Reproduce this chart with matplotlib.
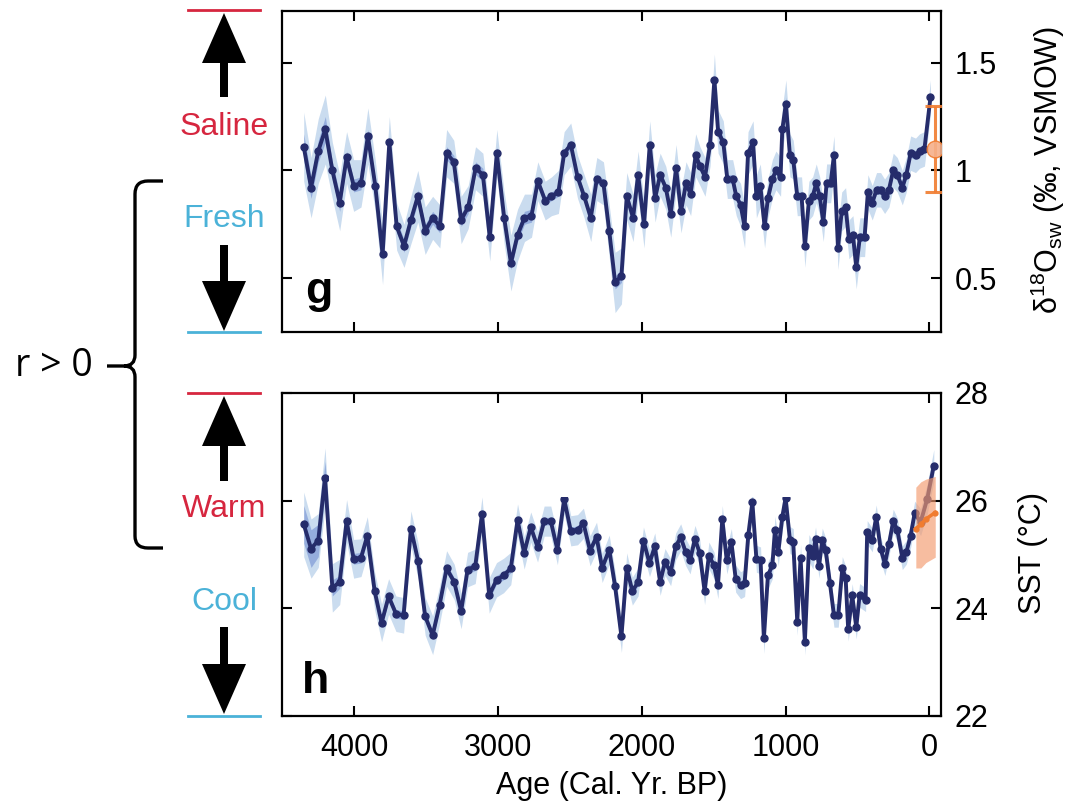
import matplotlib
matplotlib.use("agg")
import matplotlib.pyplot as plt
from matplotlib.patches import FancyArrow, PathPatch
from matplotlib.path import Path
import numpy as np

plt.rcParams['font.family'] = ['Liberation Sans', 'DejaVu Sans']
plt.rcParams['mathtext.fontset'] = 'custom'
plt.rcParams['mathtext.rm'] = 'Liberation Sans'
plt.rcParams['mathtext.it'] = 'Liberation Sans:italic'

# --- seawater d18O record (panel g) ---
age_g = [4349, 4298, 4248, 4199, 4150, 4099, 4051, 4002, 3951, 3903,
         3852, 3801, 3754, 3703, 3652, 3604, 3556, 3505, 3453, 3403,
         3356, 3306, 3255, 3206, 3155, 3104, 3056, 3007, 2956, 2909,
         2863, 2815, 2766, 2722, 2671, 2627, 2579, 2539, 2493, 2446,
         2400, 2354, 2312, 2266, 2226, 2185, 2141, 2104, 2060, 2025,
         1984, 1944, 1907, 1872, 1833, 1798, 1761, 1727, 1692, 1660,
         1625, 1595, 1560, 1525, 1495, 1469, 1433, 1405, 1368, 1343,
         1313, 1285, 1261, 1226, 1203, 1176, 1146, 1123, 1092, 1067,
         1035, 1023, 998, 970, 947, 919, 889, 866, 838, 812,
         787, 763, 738, 715, 687, 664, 636, 610, 583, 560,
         532, 509, 484, 451, 428, 398, 368, 340, 312, 282,
         252, 224, 189, 161, 131, 97, 69, 35, -7]
d18o = [1.11, 0.92, 1.09, 1.19, 1.00, 0.85, 1.06, 0.93, 0.94, 1.16,
        0.93, 0.61, 1.13, 0.74, 0.65, 0.77, 0.88, 0.72, 0.78, 0.74,
        1.08, 1.04, 0.77, 0.83, 1.01, 0.98, 0.69, 1.08, 0.78, 0.57,
        0.70, 0.78, 0.79, 0.95, 0.86, 0.88, 0.90, 1.08, 1.12, 0.97,
        0.88, 0.78, 0.96, 0.94, 0.72, 0.48, 0.51, 0.88, 0.78, 0.98,
        0.75, 1.12, 0.87, 0.98, 0.92, 0.80, 1.01, 0.81, 0.94, 0.89,
        1.07, 1.02, 0.97, 1.12, 1.42, 1.18, 1.13, 0.96, 0.96, 0.88,
        0.84, 0.74, 1.08, 1.13, 0.88, 0.93, 0.74, 0.87, 0.96, 1.00,
        0.97, 1.19, 1.31, 1.07, 1.05, 0.88, 0.88, 0.65, 0.86, 0.88,
        0.94, 0.88, 0.76, 0.94, 0.94, 1.07, 0.64, 0.81, 0.83, 0.68,
        0.70, 0.55, 0.69, 0.69, 0.90, 0.85, 0.91, 0.91, 0.88, 0.91,
        1.00, 0.98, 0.92, 0.98, 1.08, 1.07, 1.09, 1.10, 1.34]
d18o_err95 = [0.16, 0.14, 0.15, 0.16, 0.13, 0.13, 0.12, 0.12, 0.11, 0.13,
              0.12, 0.14, 0.12, 0.11, 0.10, 0.11, 0.12, 0.11, 0.10, 0.10,
              0.11, 0.10, 0.11, 0.10, 0.10, 0.10, 0.11, 0.11, 0.12, 0.13,
              0.12, 0.11, 0.10, 0.09, 0.09, 0.09, 0.10, 0.10, 0.10, 0.10,
              0.10, 0.11, 0.10, 0.10, 0.12, 0.14, 0.13, 0.11, 0.11, 0.11,
              0.11, 0.11, 0.11, 0.10, 0.10, 0.11, 0.11, 0.10, 0.10, 0.10,
              0.10, 0.09, 0.09, 0.10, 0.12, 0.10, 0.10, 0.09, 0.09, 0.09,
              0.10, 0.10, 0.10, 0.10, 0.10, 0.10, 0.10, 0.09, 0.09, 0.09,
              0.09, 0.10, 0.11, 0.10, 0.09, 0.09, 0.09, 0.10, 0.09, 0.09,
              0.09, 0.09, 0.09, 0.09, 0.09, 0.09, 0.10, 0.09, 0.09, 0.09,
              0.09, 0.10, 0.09, 0.09, 0.08, 0.08, 0.08, 0.08, 0.08, 0.08,
              0.08, 0.08, 0.08, 0.08, 0.08, 0.08, 0.08, 0.08, 0.08]
d18o_err68 = [0.06, 0.05, 0.05, 0.06, 0.04, 0.04, 0.03, 0.03, 0.03, 0.03,
              0.03, 0.03, 0.03, 0.03, 0.03, 0.03, 0.03, 0.03, 0.03, 0.03,
              0.03, 0.03, 0.03, 0.03, 0.03, 0.03, 0.03, 0.03, 0.03, 0.03,
              0.03, 0.03, 0.03, 0.02, 0.02, 0.02, 0.02, 0.02, 0.02, 0.02,
              0.02, 0.02, 0.02, 0.02, 0.03, 0.03, 0.03, 0.02, 0.02, 0.02,
              0.02, 0.02, 0.02, 0.02, 0.02, 0.02, 0.02, 0.02, 0.02, 0.02,
              0.02, 0.02, 0.02, 0.02, 0.03, 0.03, 0.02, 0.02, 0.02, 0.02,
              0.02, 0.02, 0.02, 0.02, 0.02, 0.02, 0.02, 0.02, 0.02, 0.02,
              0.02, 0.02, 0.03, 0.02, 0.02, 0.02, 0.02, 0.02, 0.02, 0.02,
              0.02, 0.02, 0.02, 0.02, 0.02, 0.02, 0.02, 0.02, 0.02, 0.02,
              0.02, 0.03, 0.02, 0.02, 0.02, 0.02, 0.02, 0.02, 0.02, 0.02,
              0.02, 0.02, 0.02, 0.02, 0.02, 0.02, 0.02, 0.02, 0.02]
# modern seawater value
modern_age_g = [-40]
modern_d18o = [1.10]
modern_d18o_err = [0.20]

# --- SST record (panel h) ---
age_h = [4349, 4298, 4248, 4201, 4150, 4099, 4051, 4002, 3951, 3907,
         3856, 3808, 3759, 3708, 3655, 3604, 3553, 3505, 3453, 3405,
         3356, 3303, 3255, 3210, 3157, 3110, 3060, 3009, 2960, 2910,
         2863, 2817, 2771, 2724, 2678, 2632, 2586, 2539, 2493, 2446,
         2405, 2359, 2314, 2275, 2226, 2185, 2141, 2104, 2065, 2025,
         1988, 1946, 1909, 1872, 1838, 1799, 1764, 1729, 1694, 1664,
         1630, 1597, 1563, 1533, 1498, 1470, 1440, 1409, 1377, 1347,
         1313, 1285, 1259, 1231, 1203, 1174, 1151, 1123, 1092, 1074,
         1051, 1023, 1000, 970, 947, 919, 896, 866, 838, 810,
         792, 768, 745, 722, 692, 664, 634, 606, 583, 565,
         537, 509, 486, 444, 433, 398, 370, 340, 310, 282,
         252, 224, 189, 161, 131, 103, 62, 16, -30]
sst = [25.56, 25.11, 25.26, 26.43, 24.38, 24.49, 25.62, 24.92, 24.94, 25.35,
       24.32, 23.73, 24.22, 23.90, 23.87, 25.48, 24.87, 23.85, 23.50, 24.06,
       24.74, 24.49, 23.95, 24.72, 24.78, 25.75, 24.24, 24.53, 24.61, 24.74,
       25.64, 25.03, 25.51, 25.14, 25.62, 25.62, 25.09, 26.03, 25.44, 25.46,
       25.58, 25.07, 25.33, 24.75, 25.09, 24.41, 23.48, 24.75, 24.32, 24.49,
       25.26, 24.84, 25.15, 24.49, 24.86, 24.67, 25.15, 25.32, 25.04, 24.89,
       25.29, 25.03, 24.32, 24.98, 24.80, 24.43, 25.66, 24.89, 25.23, 24.55,
       24.43, 24.47, 25.37, 25.97, 24.92, 24.89, 23.44, 24.61, 24.80, 25.46,
       25.04, 25.70, 26.05, 25.27, 25.23, 23.75, 24.94, 23.38, 25.12, 24.98,
       25.29, 24.78, 25.27, 25.09, 24.47, 23.87, 23.87, 24.74, 24.57, 23.61,
       24.24, 23.65, 24.24, 24.16, 25.41, 25.27, 25.70, 25.11, 24.83, 25.19,
       25.62, 25.46, 24.94, 25.04, 25.35, 25.77, 25.60, 26.03, 26.65]
sst_err95 = [0.60, 0.55, 0.50, 0.55, 0.45, 0.42, 0.40, 0.36, 0.35, 0.35,
             0.35, 0.35, 0.33, 0.33, 0.33, 0.33, 0.33, 0.35, 0.36, 0.35,
             0.33, 0.33, 0.33, 0.32, 0.32, 0.32, 0.33, 0.32, 0.32, 0.30,
             0.30, 0.30, 0.28, 0.28, 0.28, 0.28, 0.28, 0.28, 0.28, 0.28,
             0.28, 0.28, 0.27, 0.27, 0.27, 0.28, 0.30, 0.28, 0.26, 0.26,
             0.25, 0.25, 0.25, 0.25, 0.25, 0.25, 0.25, 0.25, 0.25, 0.25,
             0.25, 0.25, 0.25, 0.25, 0.25, 0.25, 0.25, 0.25, 0.25, 0.25,
             0.25, 0.25, 0.25, 0.25, 0.25, 0.25, 0.28, 0.25, 0.25, 0.25,
             0.25, 0.25, 0.25, 0.25, 0.25, 0.25, 0.25, 0.25, 0.25, 0.25,
             0.22, 0.22, 0.22, 0.22, 0.22, 0.22, 0.22, 0.22, 0.22, 0.22,
             0.22, 0.22, 0.22, 0.22, 0.22, 0.22, 0.22, 0.22, 0.22, 0.22,
             0.22, 0.22, 0.22, 0.22, 0.22, 0.22, 0.25, 0.28, 0.30]
sst_err68 = [0.35, 0.35, 0.30, 0.30, 0.15, 0.12, 0.12, 0.10, 0.10, 0.10,
             0.08, 0.08, 0.08, 0.08, 0.08, 0.08, 0.08, 0.08, 0.08, 0.08,
             0.08, 0.08, 0.08, 0.08, 0.08, 0.08, 0.08, 0.08, 0.08, 0.08,
             0.07, 0.07, 0.07, 0.07, 0.07, 0.07, 0.07, 0.07, 0.07, 0.07,
             0.07, 0.07, 0.07, 0.07, 0.07, 0.07, 0.07, 0.07, 0.07, 0.07,
             0.06, 0.06, 0.06, 0.06, 0.06, 0.06, 0.06, 0.06, 0.06, 0.06,
             0.06, 0.06, 0.06, 0.06, 0.06, 0.06, 0.06, 0.06, 0.06, 0.06,
             0.06, 0.06, 0.06, 0.06, 0.06, 0.06, 0.06, 0.06, 0.06, 0.06,
             0.06, 0.06, 0.06, 0.06, 0.06, 0.06, 0.06, 0.06, 0.06, 0.06,
             0.06, 0.06, 0.06, 0.06, 0.06, 0.06, 0.06, 0.06, 0.06, 0.06,
             0.06, 0.06, 0.06, 0.06, 0.06, 0.06, 0.06, 0.06, 0.06, 0.06,
             0.06, 0.06, 0.06, 0.06, 0.06, 0.06, 0.06, 0.06, 0.06]
# instrumental SST
inst_age = [95, 60, 25, -40]
inst_sst = [25.48, 25.56, 25.66, 25.78]
inst_lo = [24.75, 24.75, 24.85, 24.95]
inst_hi = [26.25, 26.35, 26.40, 26.45]

NAVY = '#252c6b'
BAND_LIGHT = '#cadcef'
BAND_DARK = '#7f9ad6'
ORANGE = '#f07c30'
RED = '#d6263f'
BLUE = '#4bb2d8'

W, H = 1071, 807
fig = plt.figure(figsize=(W / 100, H / 100), dpi=100)
ax_g = fig.add_axes([282 / W, 1 - 332 / H, 659 / W, 321 / H])
ax_h = fig.add_axes([282 / W, 1 - 716 / H, 659 / W, 323 / H])


def draw_record(ax, age, val, e95, e68):
    age = np.asarray(age)
    val = np.asarray(val)
    e95 = np.asarray(e95)
    e68 = np.asarray(e68)
    ax.fill_between(age, val - e95, val + e95, color=BAND_LIGHT, lw=0, zorder=1)
    ax.fill_between(age, val - e68, val + e68, color=BAND_DARK, alpha=0.7, lw=0, zorder=1.5)
    ax.plot(age, val, color=NAVY, lw=2.8, marker='o', ms=5, zorder=3)


def style_axes(ax):
    ax.set_xlim(4500, -80)
    ax.tick_params(direction='in', length=7, width=1.5, top=True, bottom=True,
                   left=True, right=True, labelleft=False, labelright=True,
                   labelsize=22, pad=10)
    for s in ax.spines.values():
        s.set_linewidth(1.6)
    ax.set_xticks([4000, 3000, 2000, 1000, 0])


draw_record(ax_g, age_g, d18o, d18o_err95, d18o_err68)
ax_g.errorbar(modern_age_g, modern_d18o, yerr=modern_d18o_err, fmt='o', color=ORANGE,
              mfc='#f6b08a', mec=ORANGE, ms=12, capsize=7, elinewidth=2.2, capthick=2.2,
              alpha=0.9, zorder=4)
style_axes(ax_g)
ax_g.set_ylim(0.25, 1.74)
ax_g.set_yticks([0.5, 1, 1.5])
ax_g.set_yticklabels(['0.5', '1', '1.5'])
ax_g.tick_params(labelbottom=False)
ax_g.text(0.035, 0.09, 'g', transform=ax_g.transAxes, fontsize=32, fontweight='bold')

draw_record(ax_h, age_h, sst, sst_err95, sst_err68)
ax_h.fill_between(inst_age, inst_lo, inst_hi, color='#f49a6e', alpha=0.65, lw=0, zorder=4)
ax_h.plot(inst_age, inst_sst, color=ORANGE, lw=2.5, marker='o', ms=3.5, zorder=5)
# blanked strip above the record
ax_h.axvspan(900, 4170, ymin=(26.06 - 22) / 6, ymax=0.965, color='white', lw=0, zorder=3.5)
style_axes(ax_h)
ax_h.set_ylim(22, 28)
ax_h.set_yticks([22, 24, 26, 28])
ax_h.tick_params(axis='x', pad=12)
ax_h.set_xlabel('Age (Cal. Yr. BP)', fontsize=22, labelpad=6)
ax_h.text(0.03, 0.07, 'h', transform=ax_h.transAxes, fontsize=32, fontweight='bold')

fig.text(1048 / W, 1 - 170 / H, 'δ$^{18}$O$_{\\rm sw}$ (‰, VSMOW)', rotation=90,
         ha='center', va='center', fontsize=22)
fig.text(1033 / W, 1 - 553 / H, 'SST (°C)', rotation=90, ha='center', va='center', fontsize=22)

# left-hand guide: direction arrows and labels, in pixel units
pix = fig.dpi_scale_trans


def px(x, y):
    return x / 100, (H - y) / 100


def hline(y, color):
    (x0, yy), (x1, _) = px(188, y), px(260, y)
    fig.add_artist(plt.Line2D([x0, x1], [yy, yy], color=color, lw=2, transform=pix))


def arrow(y_from, y_to):
    x0, y0 = px(224, y_from)
    _, y1 = px(224, y_to)
    fig.add_artist(FancyArrow(x0, y0, 0, y1 - y0, width=0.08, head_width=0.44,
                              head_length=0.5, length_includes_head=True,
                              color='black', lw=0, transform=pix))


def label(y, s, color):
    x, yy = px(224, y)
    fig.text(x, yy, s, color=color, fontsize=23, ha='center', va='center', transform=pix)


hline(10, RED)
arrow(97, 13)
label(127, 'Saline', RED)
label(219, 'Fresh', BLUE)
arrow(245, 331)
hline(332, BLUE)

hline(393, RED)
arrow(481, 396)
label(509, 'Warm', RED)
label(602, 'Cool', BLUE)
arrow(627, 714)
hline(716, BLUE)

# curly brace joining the two records
verts = [px(163, 181), px(148, 181), px(135, 181), px(135, 194), px(135, 355),
         px(135, 366), px(124, 366), px(107, 366),
         px(124, 366), px(135, 366), px(135, 377), px(135, 536), px(135, 548),
         px(148, 548), px(163, 548)]
codes = [Path.MOVETO, Path.LINETO, Path.CURVE3, Path.CURVE3, Path.LINETO,
         Path.CURVE3, Path.CURVE3, Path.LINETO,
         Path.MOVETO, Path.CURVE3, Path.CURVE3, Path.LINETO, Path.CURVE3,
         Path.CURVE3, Path.LINETO]
fig.add_artist(PathPatch(Path(verts, codes), fill=False, lw=2.4, color='black',
                         transform=pix, capstyle='butt'))
tx, ty = px(54, 366)
fig.text(tx, ty, 'r > 0', fontsize=27, ha='center', va='center', transform=pix,
         family=['Open Sans', 'DejaVu Sans'])

fig.savefig('out.png', dpi=100)
